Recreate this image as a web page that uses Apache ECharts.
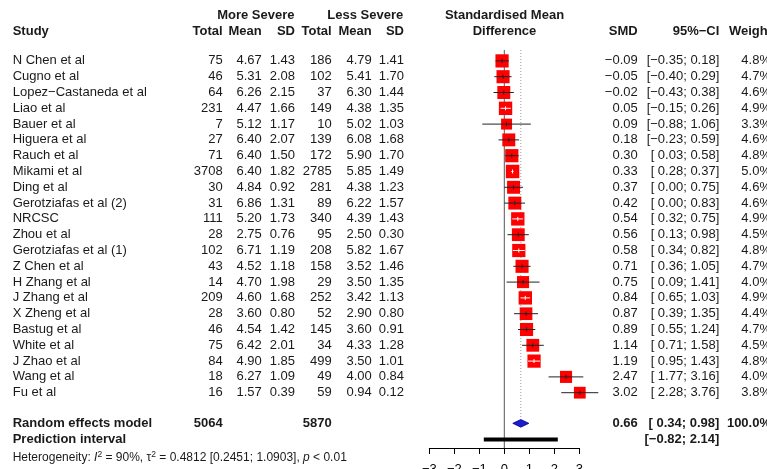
<!DOCTYPE html>
<html><head><meta charset="utf-8">
<script src="https://cdn.jsdelivr.net/npm/echarts@6/dist/echarts.min.js"></script>
<style>html,body{margin:0;padding:0;background:#fff}#c{width:767px;height:469px}</style>
</head><body><div id="c"></div>
<script>
var studies = ["N Chen et al","Cugno et al","Lopez\u2212Castaneda et al","Liao et al","Bauer et al","Higuera et al","Rauch et al","Mikami et al","Ding et al","Gerotziafas et al (2)","NRCSC","Zhou et al","Gerotziafas et al (1)","Z Chen et al","H Zhang et al","J Zhang et al","X Zheng et al","Bastug et al","White et al","J Zhao et al","Wang et al","Fu et al"];
var moreTotal = [75,46,64,231,7,27,71,3708,30,31,111,28,102,43,14,209,28,46,75,84,18,16];
var moreMean = [4.67,5.31,6.26,4.47,5.12,6.40,6.40,6.40,4.84,6.86,5.20,2.75,6.71,4.52,4.70,4.60,3.60,4.54,6.42,4.90,6.27,1.57];
var moreSD = [1.43,2.08,2.15,1.66,1.17,2.07,1.50,1.82,0.92,1.31,1.73,0.76,1.19,1.18,1.98,1.68,0.80,1.42,2.01,1.85,1.09,0.39];
var lessTotal = [186,102,37,149,10,139,172,2785,281,89,340,95,208,158,29,252,52,145,34,499,49,59];
var lessMean = [4.79,5.41,6.30,4.38,5.02,6.08,5.90,5.85,4.38,6.22,4.39,2.50,5.82,3.52,3.50,3.42,2.90,3.60,4.33,3.50,4.00,0.94];
var lessSD = [1.41,1.70,1.44,1.35,1.03,1.68,1.70,1.49,1.23,1.57,1.43,0.30,1.67,1.46,1.35,1.13,0.80,0.91,1.28,1.01,0.84,0.12];
var smd = [-0.09,-0.05,-0.02,0.05,0.09,0.18,0.30,0.33,0.37,0.42,0.54,0.56,0.58,0.71,0.75,0.84,0.87,0.89,1.14,1.19,2.47,3.02];
var ciLow = [-0.35,-0.40,-0.43,-0.15,-0.88,-0.23,0.03,0.28,0.00,0.00,0.32,0.13,0.34,0.36,0.09,0.65,0.39,0.55,0.71,0.95,1.77,2.28];
var ciHigh = [0.18,0.29,0.38,0.26,1.06,0.59,0.58,0.37,0.75,0.83,0.75,0.98,0.82,1.05,1.41,1.03,1.35,1.24,1.58,1.43,3.16,3.76];
var weight = [4.8,4.7,4.6,4.9,3.3,4.6,4.8,5.0,4.6,4.6,4.9,4.5,4.8,4.7,4.0,4.9,4.4,4.7,4.5,4.8,4.0,3.8];
var pooledTotals = [5064, 5870];
var pooled = {est: 0.66, low: 0.34, high: 0.98, weight: 100.0};
var predInterval = [-0.82, 2.14];
var xTicks = [-3, -2, -1, 0, 1, 2, 3];

var FONT = "'Liberation Sans', Arial, sans-serif";
var TXT = '#1a1a1a';
function mn(v, d){ var s = Math.abs(v).toFixed(d); return (v < 0 ? '\u2212' : '') + s; }
function ci(a, b){ return '[' + (a < 0 ? '\u2212' : ' ') + Math.abs(a).toFixed(2) + '; ' + mn(b, 2) + ']'; }

var rowIdx = studies.map(function(_, i){ return [i]; });
var ROW_SUM = 22.94, ROW_PRED = 23.96, ROW_H1 = -2.9, ROW_H2 = -1.85, ROW_HET = 25.1;

function txt(x, y, s, align, bold, size){
  return {type:'text', x:x, y:y, style:{text:s, fill:TXT, font:(bold?'bold ':'') + (size||13) + 'px ' + FONT, align:align, textAlign:align, verticalAlign:'middle', textVerticalAlign:'middle'}};
}

var chart = echarts.init(document.getElementById('c'), null, {renderer:'canvas'});
chart.setOption({
  animation:false,
  grid:{left:429.3, right:187.7, top:5.6, bottom:21, containLabel:false, outerBoundsMode:'none'},
  xAxis:{type:'value', min:-3, max:3, interval:1, splitLine:{show:false}, position:'bottom',
    axisLine:{show:true, onZero:false, lineStyle:{color:'#000', width:1}},
    axisTick:{show:true, length:6, lineStyle:{color:'#000'}},
    axisLabel:{margin:15, color:'#000', fontSize:13, fontFamily:FONT,
      formatter:function(v){ return xTicks.indexOf(v) < 0 ? '' : mn(v, 0); }}},
  yAxis:{type:'value', min:-3.5, max:24.5, inverse:true, show:false},
  series:[
    { // reference lines
      type:'custom', clip:false, data:[[0, pooled.est]],
      renderItem:function(p, api){
        var z0 = api.coord([0, -0.69]), z1 = api.coord([0, 24.5]);
        var d0 = api.coord([api.value(1), -0.69]), d1 = api.coord([api.value(1), 22.65]);
        return {type:'group', children:[
          {type:'line', shape:{x1:z0[0], y1:z0[1], x2:z1[0], y2:z1[1]}, style:{stroke:'#555', lineWidth:1}},
          {type:'line', shape:{x1:d0[0], y1:d0[1], x2:d1[0], y2:d1[1]}, style:{stroke:'#999', lineWidth:1, lineDash:[1,2]}}
        ]};
      }
    },
    { // study squares + CIs
      type:'custom', clip:false, data:rowIdx,
      renderItem:function(p, api){
        var i = api.value(0);
        var c = api.coord([smd[i], i]);
        var l = api.coord([ciLow[i], i]), h = api.coord([ciHigh[i], i]);
        var s = 13.5 * Math.sqrt(weight[i] / 5);
        var inside = (c[0] - l[0]) < s/2 && (h[0] - c[0]) < s/2;
        var col = inside ? '#ffffff' : '#222';
        return {type:'group', children:[
          {type:'rect', shape:{x:c[0]-s/2, y:c[1]-s/2, width:s, height:s}, style:{fill:'#ff0000', stroke:null}},
          {type:'line', shape:{x1:l[0], y1:c[1], x2:h[0], y2:c[1]}, style:{stroke:col, lineWidth:1}},
          {type:'line', shape:{x1:c[0], y1:c[1]-2, x2:c[0], y2:c[1]+2}, style:{stroke:col, lineWidth:1}}
        ]};
      }
    },
    { // pooled diamond + prediction interval
      type:'custom', clip:false, data:[[pooled.est, pooled.low, pooled.high, predInterval[0], predInterval[1]]],
      renderItem:function(p, api){
        var c = api.coord([api.value(0), ROW_SUM]);
        var l = api.coord([api.value(1), ROW_SUM]), h = api.coord([api.value(2), ROW_SUM]);
        var pl = api.coord([api.value(3), ROW_PRED]), ph = api.coord([api.value(4), ROW_PRED]);
        var hh = 3.8;
        return {type:'group', children:[
          {type:'polygon', shape:{points:[[l[0],c[1]],[c[0],c[1]-hh],[h[0],c[1]],[c[0],c[1]+hh]]}, style:{fill:'#1c1cd6', stroke:'#000080', lineWidth:0.8}},
          {type:'rect', shape:{x:pl[0], y:pl[1]-2, width:ph[0]-pl[0], height:4}, style:{fill:'#000'}}
        ]};
      }
    },
    { // study table text
      type:'custom', clip:false, data:rowIdx, silent:true,
      renderItem:function(p, api){
        var i = api.value(0);
        var y = api.coord([0, i])[1];
        return {type:'group', children:[
          txt(12.7, y, studies[i], 'left'),
          txt(222.7, y, String(moreTotal[i]), 'right'),
          txt(261.7, y, moreMean[i].toFixed(2), 'right'),
          txt(295, y, moreSD[i].toFixed(2), 'right'),
          txt(331.7, y, String(lessTotal[i]), 'right'),
          txt(371.7, y, lessMean[i].toFixed(2), 'right'),
          txt(404, y, lessSD[i].toFixed(2), 'right'),
          txt(637.7, y, mn(smd[i], 2), 'right'),
          txt(719.3, y, ci(ciLow[i], ciHigh[i]), 'right'),
          txt(771, y, weight[i].toFixed(1) + '%', 'right')
        ]};
      }
    },
    { // headers and summary text
      type:'custom', clip:false, data:[[0]], silent:true,
      renderItem:function(p, api){
        var y1 = api.coord([0, ROW_H1])[1], y2 = api.coord([0, ROW_H2])[1];
        var ys = api.coord([0, ROW_SUM])[1], yp = api.coord([0, ROW_PRED])[1], yh = api.coord([0, ROW_HET])[1];
        var het = {type:'text', x:12.7, y:yh, style:{
          text:'Heterogeneity: {i|I}{s|2} = 90%, \u03c4{s|2} = 0.4812 [0.2451; 1.0903], {i|p} < 0.01',
          fill:TXT, font:'12px ' + FONT, align:'left', textAlign:'left', verticalAlign:'middle', textVerticalAlign:'middle',
          rich:{i:{fontStyle:'italic', fontSize:12, fontFamily:FONT, fill:TXT, fontWeight:'normal'},
                s:{fontSize:8.5, fontFamily:FONT, fill:TXT, verticalAlign:'top', padding:[0,0,6,0]}}}};
        return {type:'group', children:[
          txt(255.8, y1, 'More Severe', 'center', true),
          txt(365.3, y1, 'Less Severe', 'center', true),
          txt(504.5, y1, 'Standardised Mean', 'center', true),
          txt(12.7, y2, 'Study', 'left', true),
          txt(222.7, y2, 'Total', 'right', true),
          txt(261.7, y2, 'Mean', 'right', true),
          txt(295, y2, 'SD', 'right', true),
          txt(331.7, y2, 'Total', 'right', true),
          txt(371.7, y2, 'Mean', 'right', true),
          txt(404, y2, 'SD', 'right', true),
          txt(504.5, y2, 'Difference', 'center', true),
          txt(637.7, y2, 'SMD', 'right', true),
          txt(719.3, y2, '95%\u2212CI', 'right', true),
          txt(772, y2, 'Weight', 'right', true),
          txt(12.7, ys, 'Random effects model', 'left', true),
          txt(222.7, ys, String(pooledTotals[0]), 'right', true),
          txt(331.7, ys, String(pooledTotals[1]), 'right', true),
          txt(637.7, ys, mn(pooled.est, 2), 'right', true),
          txt(719.3, ys, ci(pooled.low, pooled.high), 'right', true),
          txt(771, ys, pooled.weight.toFixed(1) + '%', 'right', true),
          txt(12.7, yp, 'Prediction interval', 'left', true),
          txt(719.3, yp, ci(predInterval[0], predInterval[1]), 'right', true),
          het
        ]};
      }
    }
  ]
});
</script></body></html>
